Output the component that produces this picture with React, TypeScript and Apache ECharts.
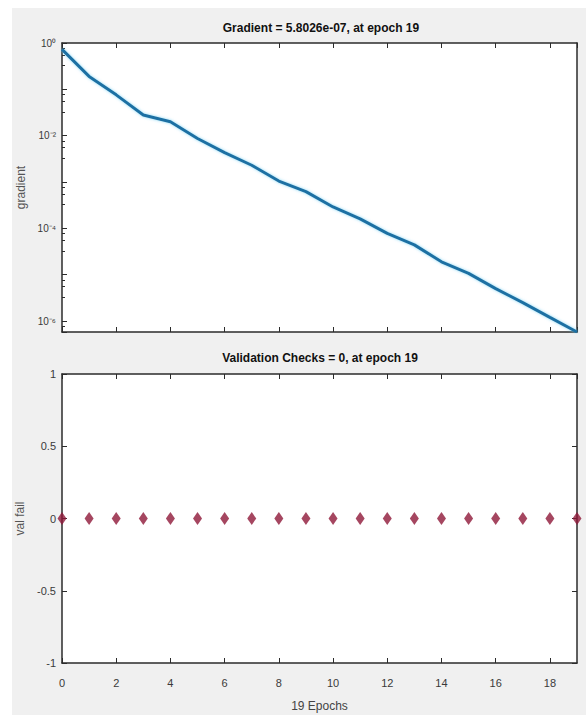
import React, { useEffect, useRef } from "react";
import * as echarts from "echarts";

const epochs = [0, 1, 2, 3, 4, 5, 6, 7, 8, 9, 10, 11, 12, 13, 14, 15, 16, 17, 18, 19];
const gradient = [
  0.73, 0.19, 0.076, 0.028, 0.02, 0.0087, 0.0043, 0.0023, 0.00105, 0.00062,
  0.00029, 0.00016, 0.000078, 0.000044, 0.000019, 0.0000107, 0.000005,
  0.0000025, 0.0000012, 5.8026e-7,
];
const valFail = [0, 0, 0, 0, 0, 0, 0, 0, 0, 0, 0, 0, 0, 0, 0, 0, 0, 0, 0, 0];
const gradTitle = "Gradient = 5.8026e-07, at epoch 19";
const valTitle = "Validation Checks = 0, at epoch 19";
const xName = "19 Epochs";

const SUP: Record<string, string> = {
  "0": "⁰", "1": "¹", "2": "²", "3": "³", "4": "⁴", "5": "⁵", "6": "⁶", "7": "⁷", "8": "⁸", "9": "⁹", "-": "⁻",
};
const logLabel = (v: number) => {
  const e = Math.log10(v);
  const r = Math.round(e);
  if (Math.abs(e - r) > 1e-6 || r % 2 !== 0) return "";
  return "10" + String(r).split("").map((c) => SUP[c] || c).join("");
};

const AX = "#2b2b2b";
const LBL = "#3a3a3a";
const FONT = "Liberation Sans, Arial, sans-serif";

export default function App() {
  const ref = useRef<HTMLDivElement>(null);
  useEffect(() => {
    if (!ref.current) return;
    const chart = echarts.init(ref.current, null, { renderer: "svg" });
    const axLine = { show: true, onZero: false, lineStyle: { color: AX, width: 1.5 } };
    const tickIn = { show: true, inside: true, length: 5, lineStyle: { color: AX, width: 1 } };
    const xBase = (grid: number) => ({
      type: "value" as const,
      gridIndex: grid,
      min: 0,
      max: 19,
      interval: 2,
      axisLine: axLine,
      axisTick: tickIn,
      splitLine: { show: false },
    });
    chart.setOption({
      animation: false,
      textStyle: { fontFamily: FONT },
      graphic: [
        { type: "rect", shape: { x: 12, y: 8, width: 574, height: 707 }, style: { fill: "#f0f0f0" }, z: -10, silent: true },
        { type: "text", x: 321, y: 28, style: { text: gradTitle, fill: "#111", font: "bold 12px " + FONT, textAlign: "center", textVerticalAlign: "middle" } },
        { type: "text", x: 320, y: 358, style: { text: valTitle, fill: "#111", font: "bold 12px " + FONT, textAlign: "center", textVerticalAlign: "middle" } },
      ],
      grid: [
        { left: 62, top: 43, width: 515, height: 289, show: true, backgroundColor: "#ffffff", borderWidth: 0 },
        { left: 62, top: 374, width: 515, height: 289, show: true, backgroundColor: "#ffffff", borderWidth: 0 },
      ],
      xAxis: [
        { ...xBase(0), position: "bottom", axisLabel: { show: false } },
        { ...xBase(0), position: "top", axisLabel: { show: false } },
        {
          ...xBase(1),
          position: "bottom",
          name: xName,
          nameLocation: "middle",
          nameGap: 37,
          nameTextStyle: { color: "#444", fontSize: 12, fontFamily: FONT },
          axisLabel: { show: true, color: LBL, fontSize: 11, margin: 14, showMaxLabel: false, fontFamily: FONT },
        },
        { ...xBase(1), position: "top", axisLabel: { show: false } },
      ],
      yAxis: [
        {
          type: "log",
          logBase: 10,
          gridIndex: 0,
          min: "dataMin",
          max: 1,
          position: "left",
          name: "gradient",
          nameLocation: "middle",
          nameGap: 32,
          nameTextStyle: { color: "#555", fontSize: 12, fontFamily: FONT },
          axisLine: axLine,
          axisTick: tickIn,
          minorTick: { show: true, splitNumber: 4, length: 3, lineStyle: { color: AX } },
          axisLabel: { color: LBL, fontSize: 10, margin: 6, formatter: logLabel, fontFamily: FONT },
          splitLine: { show: false },
        },
        {
          type: "log",
          logBase: 10,
          gridIndex: 0,
          min: "dataMin",
          max: 1,
          position: "right",
          axisLine: axLine,
          axisTick: tickIn,
          minorTick: { show: true, splitNumber: 4, length: 3, lineStyle: { color: AX } },
          axisLabel: { show: false },
          splitLine: { show: false },
        },
        {
          type: "value",
          gridIndex: 1,
          min: -1,
          max: 1,
          interval: 0.5,
          position: "left",
          name: "val fail",
          nameLocation: "middle",
          nameGap: 30,
          nameTextStyle: { color: "#555", fontSize: 12, fontFamily: FONT },
          axisLine: axLine,
          axisTick: tickIn,
          axisLabel: { color: LBL, fontSize: 11, margin: 6, fontFamily: FONT },
          splitLine: { show: false },
        },
        {
          type: "value",
          gridIndex: 1,
          min: -1,
          max: 1,
          interval: 0.5,
          position: "right",
          axisLine: axLine,
          axisTick: tickIn,
          axisLabel: { show: false },
          splitLine: { show: false },
        },
      ],
      series: [
        {
          type: "line",
          xAxisIndex: 0,
          yAxisIndex: 0,
          data: epochs.map((e, i) => [e, gradient[i]]),
          showSymbol: false,
          lineStyle: { color: "#1f6fa3", width: 3, shadowColor: "rgba(90,200,240,0.7)", shadowBlur: 3 },
          z: 3,
        },
        {
          type: "scatter",
          xAxisIndex: 2,
          yAxisIndex: 2,
          data: epochs.map((e, i) => [e, valFail[i]]),
          symbol: "diamond",
          symbolSize: [9, 13],
          itemStyle: { color: "#8e1838" },
          clip: false,
          z: 5,
        },
      ],
    });
    return () => chart.dispose();
  }, []);
  return (
    <div
      ref={ref}
      style={{ position: "fixed", left: 0, top: 0, width: 586, height: 715, background: "#ffffff" }}
    />
  );
}
